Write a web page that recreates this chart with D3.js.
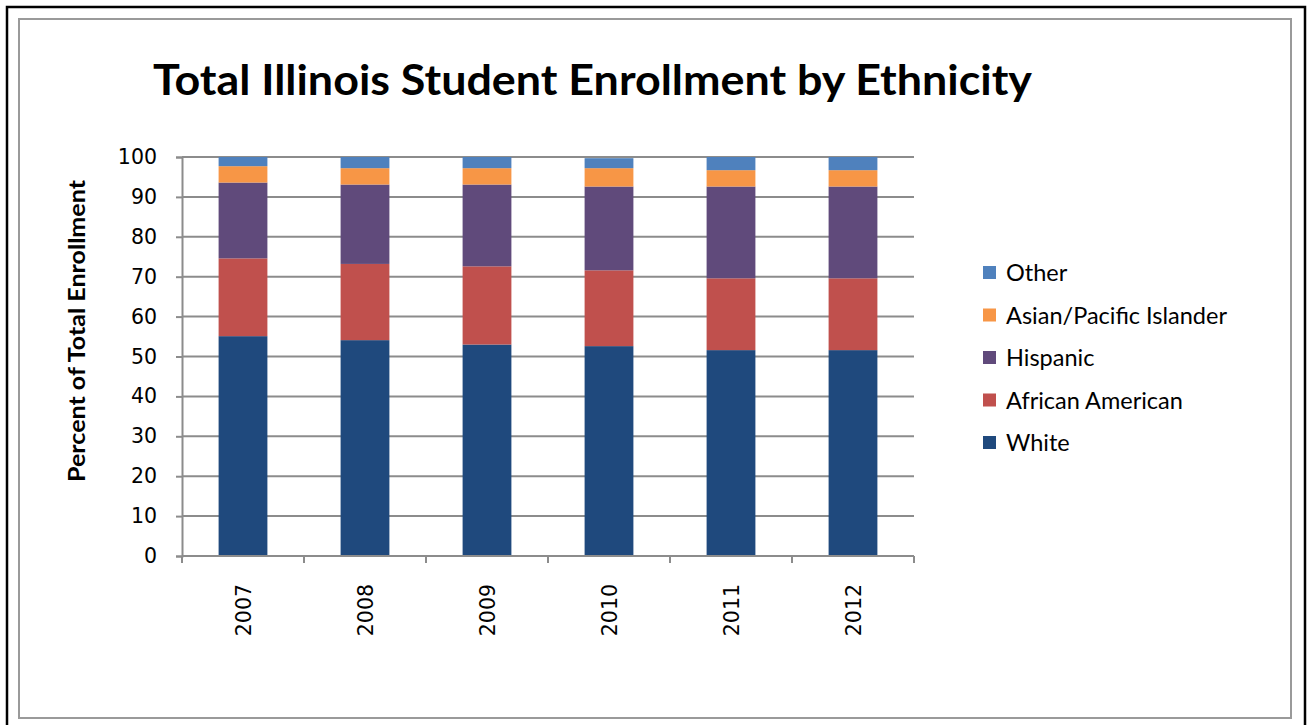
<!DOCTYPE html>
<html>
<head>
<meta charset="utf-8">
<script src="https://cdn.jsdelivr.net/npm/d3@7"></script>
<style>
  html, body { margin: 0; padding: 0; background: #fff; }
  svg { display: block; }
</style>
</head>
<body>
<svg id="chart" width="1307" height="725"></svg>
<script>
// Enrollment share (%) by year and ethnic group
const years = ["2007", "2008", "2009", "2010", "2011", "2012"];
const white = [55.1, 54.1, 53.0, 52.6, 51.6, 51.6];
const africanAmerican = [19.5, 19.1, 19.6, 19.0, 18.0, 18.0];
const hispanic = [19.0, 19.9, 20.5, 21.0, 23.0, 23.0];
const asianPacific = [4.1, 4.1, 4.1, 4.6, 4.1, 4.1];
const other = [2.3, 2.8, 2.8, 2.5, 3.3, 3.3];
const yTicks = [0, 10, 20, 30, 40, 50, 60, 70, 80, 90, 100];

const seriesNames = ["White", "African American", "Hispanic", "Asian/Pacific Islander", "Other"];
const seriesValues = [white, africanAmerican, hispanic, asianPacific, other];
const colors = ["#1f497d", "#c0504d", "#604a7b", "#f79646", "#4f81bd"];

const rows = years.map((yr, i) => {
  const r = { year: yr };
  seriesNames.forEach((n, k) => { r[n] = seriesValues[k][i]; });
  return r;
});
const stacked = d3.stack().keys(seriesNames)(rows);

const svg = d3.select("#chart");

// outer frame
svg.append("path")
  .attr("d", "M7,725 V7 H1305 V725")
  .attr("fill", "none").attr("stroke", "#000").attr("stroke-width", 2.5);
svg.append("rect")
  .attr("x", 19).attr("y", 19).attr("width", 1272).attr("height", 699)
  .attr("fill", "none").attr("stroke", "#9a9a9a").attr("stroke-width", 2);

// title
svg.append("text")
  .attr("x", 153).attr("y", 95)
  .attr("textLength", 879).attr("lengthAdjust", "spacingAndGlyphs")
  .style("font-family", "Lato, 'Open Sans', sans-serif")
  .style("font-weight", "bold").style("font-size", "42px")
  .attr("fill", "#000")
  .text("Total Illinois Student Enrollment by Ethnicity");

const plotLeft = 182, plotRight = 914, plotTop = 157, plotBottom = 556;
const x = d3.scaleBand().domain(years).range([plotLeft, plotRight]).paddingInner(0.6).paddingOuter(0.3);
const y = d3.scaleLinear().domain([0, 100]).range([plotBottom, plotTop]);

// gridlines
svg.append("g").selectAll("line").data(yTicks.filter(t => t > 0)).join("line")
  .attr("x1", plotLeft).attr("x2", plotRight)
  .attr("y1", d => y(d)).attr("y2", d => y(d))
  .attr("stroke", "#8c8c8c").attr("stroke-width", 2);

// bars
svg.append("g").selectAll("g").data(stacked).join("g")
  .attr("fill", (d, i) => colors[i])
  .selectAll("rect").data(d => d).join("rect")
  .attr("x", d => x(d.data.year))
  .attr("width", x.bandwidth())
  .attr("y", d => y(d[1]))
  .attr("height", d => y(d[0]) - y(d[1]));

// y axis
const yAxis = svg.append("g").attr("transform", `translate(${plotLeft},0)`)
  .call(d3.axisLeft(y).tickValues(yTicks).tickSize(6).tickPadding(19));
yAxis.select(".domain").attr("stroke", "#8c8c8c").attr("stroke-width", 2);
yAxis.selectAll(".tick line").attr("stroke", "#8c8c8c").attr("stroke-width", 2);
yAxis.selectAll(".tick text")
  .style("font-family", "'DejaVu Sans', sans-serif").style("font-size", "20.5px")
  .attr("fill", "#000");

// x axis line with ticks at category boundaries
const boundaries = d3.range(years.length + 1).map(i => plotLeft + i * (plotRight - plotLeft) / years.length);
const xg = svg.append("g");
xg.append("line").attr("x1", plotLeft).attr("x2", plotRight).attr("y1", plotBottom).attr("y2", plotBottom)
  .attr("stroke", "#8c8c8c").attr("stroke-width", 2);
xg.selectAll("line.tk").data(boundaries).join("line").attr("class", "tk")
  .attr("x1", d => d).attr("x2", d => d).attr("y1", plotBottom).attr("y2", plotBottom + 7)
  .attr("stroke", "#8c8c8c").attr("stroke-width", 2);
xg.selectAll("text").data(years).join("text")
  .attr("transform", d => `translate(${x(d) + x.bandwidth() / 2 + 8},${plotBottom + 28}) rotate(-90)`)
  .attr("text-anchor", "end")
  .style("font-family", "'DejaVu Sans', sans-serif").style("font-size", "20.5px")
  .attr("fill", "#000")
  .text(d => d);

// y axis title
svg.append("text")
  .attr("transform", `translate(85,331) rotate(-90)`)
  .attr("text-anchor", "middle")
  .attr("textLength", 302).attr("lengthAdjust", "spacingAndGlyphs")
  .style("font-family", "Lato, 'Open Sans', sans-serif")
  .style("font-weight", "bold").style("font-size", "22px")
  .attr("fill", "#000")
  .text("Percent of Total Enrollment");

// legend (top entry is the top of the stack)
const legendOrder = seriesNames.map((n, i) => ({ name: n, color: colors[i] })).reverse();
const lg = svg.append("g").selectAll("g").data(legendOrder).join("g")
  .attr("transform", (d, i) => `translate(983,${273 + i * 42.5})`);
lg.append("rect").attr("x", 0).attr("y", -7).attr("width", 13).attr("height", 13)
  .attr("fill", d => d.color);
lg.append("text").attr("x", 23).attr("y", 8)
  .style("font-family", "Lato, 'Open Sans', sans-serif").style("font-size", "23.5px")
  .attr("fill", "#000")
  .text(d => d.name);
</script>
</body>
</html>
